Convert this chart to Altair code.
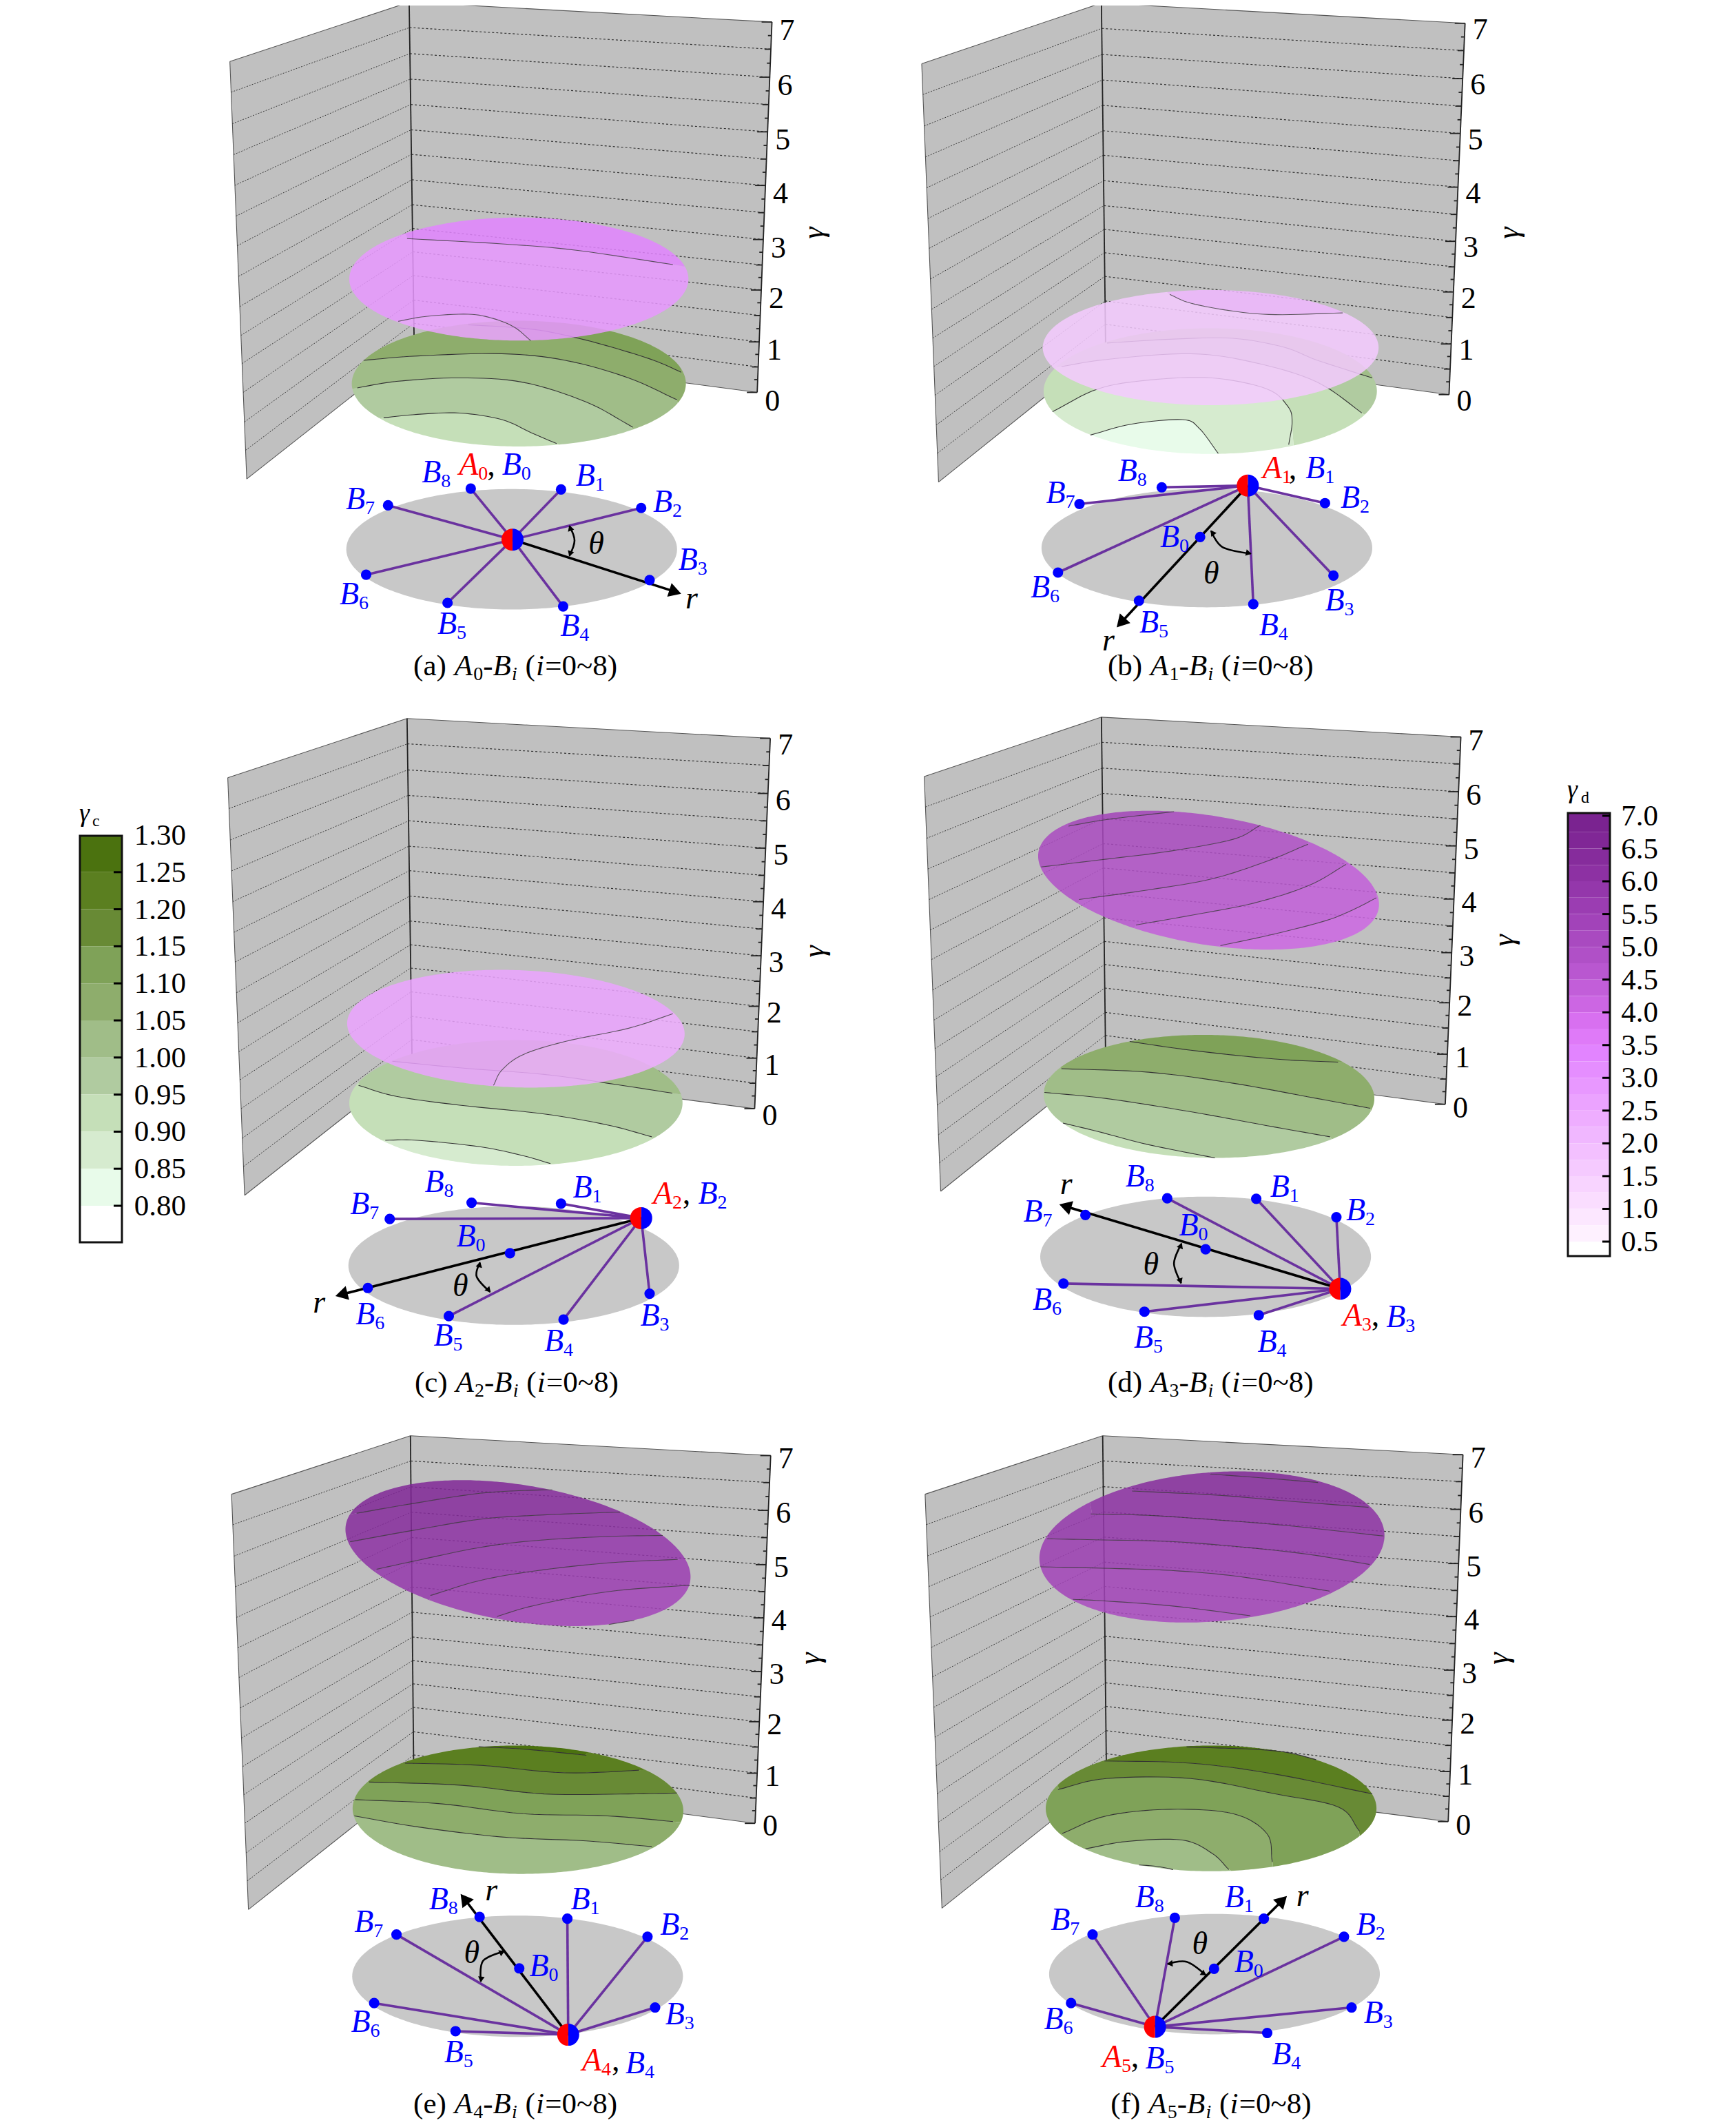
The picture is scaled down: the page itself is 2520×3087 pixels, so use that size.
import math
import numpy as np
import pandas as pd
import altair as alt

alt.data_transformers.disable_max_rows()

W, H = 2504, 3071
SX, SY = 1.633, 1.568
OFFSET = {"a": (300, 0), "b": (1300, 0), "c": (300, 1030), "d": (1300, 1030), "e": (300, 2087), "f": (1300, 2087)}
PANELS = list("abcdef")

# ---- colours of the two colour bars (top to bottom)
GREEN = ["#4B720F", "#5B7F20", "#688A35", "#7FA258", "#8EAD6C", "#A0BD88", "#B0CBA0", "#C5DFB8", "#D6EBCF", "#E8FBEA"]
PURPLE = ["#7A2390", "#802796", "#862C9C", "#8D31A3", "#9437AB", "#9B3DB2", "#A243B9", "#A94AC0", "#B050C7",
          "#B957D0", "#C25ED9", "#CC66E3", "#D870F0", "#DF7AF8", "#E284FF", "#E58EFF", "#E898FF", "#EBA3FF",
          "#EEADFF", "#F0B7FF", "#F3C0FF", "#F5CAFF", "#F8D4FF", "#FADDFF", "#FCE7FF", "#FEF1FF"]
GREEN_TICKS = ["1.30", "1.25", "1.20", "1.15", "1.10", "1.05", "1.00", "0.95", "0.90", "0.85", "0.80"]
PURPLE_TICKS = ["7.0", "6.5", "6.0", "5.5", "5.0", "4.5", "4.0", "3.5", "3.0", "2.5", "2.0", "1.5", "1.0", "0.5"]

# ---- γ walls: top-left, top corner, top-right, bottom-right, bottom corner, bottom-left
WALLS = {
    "a": [(55, 140), (480, 5), (1340, 50), (1305, 893), (492, 790), (95, 1090)],
    "b": [(62, 145), (488, 7), (1350, 53), (1312, 898), (498, 792), (102, 1097)],
    "c": [(50, 155), (475, 20), (1336, 65), (1299, 908), (487, 805), (90, 1105)],
    "d": [(68, 152), (488, 17), (1340, 62), (1303, 898), (498, 795), (107, 1096)],
    "e": [(59, 128), (483, -5), (1337, 40), (1300, 877), (491, 775), (99, 1073)],
    "f": [(70, 128), (491, -5), (1345, 38), (1310, 873), (500, 772), (110, 1070)],
}
GAMMA_FRAC = [0, .0735, .149, .2230, .2966, .3701, .4413, .5148, .5872, .6560, .7236, .7924, .8636, .9312, 1]
GAMMA_LABEL = {"a": (1440, 530), "b": (1455, 530), "c": (1442, 550), "d": (1444, 525), "e": (1432, 502), "f": (1430, 502)}
TICK_LABEL_SHIFT = {"a": 0, "b": -3, "c": -2, "d": -7, "e": -8, "f": -7}

# ---- surfaces: centre x, centre y, half width, half height, skew
GREEN_DISC = {"a": (740, 873, 396, 143, 0), "b": (746, 890, 395, 143, 0), "c": (733, 895, 395, 143, 0),
              "d": (743, 880, 392, 140, 5), "e": (738, 846, 392, 146, 3), "f": (748, 843, 392, 143, 0)}
PINK_DISC = {"a": (740, 635, 402, 140, 0), "b": (747, 791, 398, 131, 0), "c": (733, 726, 400, 134, 12),
             "d": (742, 388, 404, 158, 55), "e": (738, 262, 409, 166, 54), "f": (750, 248, 409, 172, -26)}


def crop_e(pts):
    return [(310 + a * .5443, 83 + b * .5227) for a, b in pts]


def crop_f(pts):
    return [(326.6 + a * .5443, 51.7 + b * .5227) for a, b in pts]


GREEN_LINES = {
    "a": [[(600, 738), (760, 748), (860, 765), (960, 790), (1060, 820), (1125, 847)],
          [(372, 820), (500, 810), (700, 805), (850, 820), (1000, 860), (1115, 910)],
          [(344, 885), (450, 868), (600, 860), (750, 870), (900, 915), (1010, 972)],
          [(408, 952), (500, 943), (600, 940), (700, 955), (770, 985), (838, 1013)]],
    "b": [[(480, 782), (650, 772), (800, 770), (920, 790), (1000, 820), (1130, 860)],
          [(360, 840), (500, 818), (700, 805), (850, 825), (1000, 870), (1120, 950)],
          [(372, 937), (480, 885), (600, 865), (750, 860), (880, 885), (930, 925), (940, 960), (932, 1012)],
          [(462, 990), (560, 965), (680, 955), (720, 975), (765, 1032)]],
    "c": [[(440, 800), (600, 815), (800, 830), (950, 850), (1126, 876)],
          [(360, 855), (450, 880), (600, 900), (800, 920), (950, 945), (1055, 972)],
          [(413, 980), (500, 980), (650, 995), (750, 1015), (815, 1033)]],
    "d": [[(555, 755), (700, 775), (900, 795), (1070, 803)],
          [(393, 817), (600, 825), (800, 850), (1000, 885), (1125, 907)],
          [(353, 871), (500, 885), (700, 915), (900, 950), (1030, 972)],
          [(385, 938), (480, 960), (600, 990), (757, 1020)]],
    "e": [[(630, 702), (750, 708), (900, 722)],
          [(470, 740), (650, 745), (850, 762), (1050, 755)],
          [(385, 783), (600, 790), (800, 810), (1000, 810), (1115, 808)],
          [(352, 823), (550, 832), (750, 855), (950, 860), (1128, 875)],
          [(350, 860), (500, 885), (700, 908), (900, 917), (1055, 930)]],
    "f": [[(690, 703), (900, 712), (1010, 735)],
          [(495, 735), (700, 740), (900, 765), (1130, 810)],
          [(385, 800), (500, 775), (700, 775), (900, 810), (1050, 840), (1100, 895)],
          [(395, 900), (500, 860), (650, 845), (800, 855), (880, 900), (893, 965)],
          [(450, 935), (550, 918), (680, 915), (750, 945), (790, 982)],
          [(550, 970), (620, 975), (670, 985)]],
}
GREEN_FILL = {
    "a": ["#7FA258", "#8EAD6C", "#A0BD88", "#B0CBA0", "#C5DFB8"],
    "b": ["#A0BD88", "#B0CBA0", "#C5DFB8", "#D6EBCF", "#E8FBEA"],
    "c": ["#A0BD88", "#B0CBA0", "#C5DFB8", "#D6EBCF"],
    "d": ["#7FA258", "#8EAD6C", "#A0BD88", "#B0CBA0", "#C5DFB8"],
    "e": ["#4B720F", "#5B7F20", "#688A35", "#7FA258", "#8EAD6C", "#A0BD88"],
    "f": ["#4B720F", "#5B7F20", "#688A35", "#7FA258", "#8EAD6C", "#A0BD88", "#B0CBA0"],
}
PINK_LINES = {
    "a": [[(475, 543), (700, 555), (880, 570), (1138, 607)],
          [(445, 733), (520, 720), (620, 715), (680, 725), (730, 745), (768, 775)]],
    "b": [[(650, 670), (700, 690), (800, 708), (900, 716), (1060, 712)]],
    "c": [[(485, 612), (600, 595)],
          [(680, 855), (700, 820), (750, 785), (850, 755), (1000, 725), (1105, 692)]],
    "d": [[(410, 265), (500, 250), (660, 232)],
          [(345, 358), (500, 340), (650, 322), (800, 295), (865, 263)],
          [(435, 432), (600, 410), (750, 385), (880, 345), (978, 306)],
          [(570, 490), (700, 468), (850, 440), (980, 400), (1068, 352)],
          [(770, 537), (900, 510), (1020, 480), (1085, 455), (1140, 428)]],
    "e": [crop_e([(50, 175), (320, 128), (620, 82), (870, 68), (985, 68)]),
          crop_e([(55, 293), (320, 245), (620, 195), (860, 178), (1190, 165), (1290, 165)]),
          crop_e([(170, 413), (320, 380), (620, 318), (860, 288), (1180, 270), (1450, 265)]),
          crop_e([(405, 527), (620, 462), (860, 420), (1180, 385), (1525, 368)]),
          crop_e([(695, 618), (860, 570), (1180, 510), (1530, 482)]),
          crop_e([(1085, 675), (1200, 650), (1395, 620)])],
    "f": [crop_f([(770, 58), (1000, 75), (1240, 95)]),
          crop_f([(430, 132), (800, 150), (1100, 175), (1460, 203)]),
          crop_f([(250, 232), (500, 238), (800, 258), (1100, 282), (1525, 328)]),
          crop_f([(60, 340), (300, 345), (600, 352), (900, 375), (1200, 408), (1465, 452)]),
          crop_f([(32, 462), (300, 468), (600, 478), (900, 505), (1290, 568)]),
          crop_f([(155, 603), (300, 610), (600, 632), (945, 675)])],
}
PINK_FILL = {
    "a": ["#E284FF", "#E898FF", "#EBA3FF"],
    "b": ["#F0B7FF", "#F5CAFF"],
    "c": ["#E898FF", "#EBA3FF", "#EEADFF"],
    "d": ["#A243B9", "#A94AC0", "#B050C7", "#B957D0", "#C25ED9", "#CC66E3"],
    "e": ["#802796", "#862C9C", "#8D31A3", "#9437AB", "#9B3DB2", "#A243B9", "#A94AC0"],
    "f": ["#802796", "#862C9C", "#8D31A3", "#9437AB", "#9B3DB2", "#A243B9", "#A94AC0"],
}

# ---- schematic: ellipse, A point, B points, arrow tip, which B the arrow passes
BASE = {"a": (723, 1250, 392, 137), "b": (738, 1247, 392, 135), "c": (728, 1265, 392, 135),
        "d": (735, 1245, 392, 137), "e": (737, 1225, 392, 138), "f": (756, 1220, 392, 137)}
A_POINT = {"a": (725, 1228), "b": (835, 1105), "c": (1030, 1157), "d": (1054, 1318), "e": (857, 1358), "f": (615, 1340)}
B_POINTS = {
    "a": [(840, 1114), (1030, 1156), (1050, 1320), (845, 1380), (571, 1372), (378, 1308), (430, 1150), (626, 1112)],
    "b": [(722, 1222), (1018, 1145), (1038, 1310), (848, 1375), (577, 1367), (385, 1303), (436, 1147), (631, 1109)],
    "c": [(719, 1237), (840, 1124), (1050, 1329), (846, 1388), (574, 1380), (382, 1316), (434, 1159), (628, 1122)],
    "d": [(735, 1228), (855, 1113), (1045, 1155), (861, 1378), (590, 1370), (398, 1306), (450, 1150), (644, 1112)],
    "e": [(741, 1207), (855, 1094), (1045, 1135), (1063, 1296), (590, 1350), (397, 1286), (450, 1130), (647, 1090)],
    "f": [(755, 1208), (873, 1094), (1063, 1135), (1081, 1296), (881, 1354), (416, 1286), (467, 1130), (662, 1092)],
}
# indices in B_POINTS that the black r-axis passes (no purple link)
BLACK = {"a": [2], "b": [0, 4], "c": [0, 5], "d": [0, 6], "e": [0, 7], "f": [0, 1]}
ARROW_TIP = {"a": (1128, 1352), "b": (522, 1430), "c": (302, 1335), "d": (385, 1125), "e": (600, 1035), "f": (930, 1040)}
THETA_ARC = {
    "a": [(860, 1197), (872, 1230), (860, 1265)],
    "b": [(748, 1208), (775, 1245), (842, 1260)],
    "c": [(648, 1258), (640, 1290), (672, 1325)],
    "d": [(678, 1215), (660, 1260), (677, 1305)],
    "e": [(705, 1168), (655, 1190), (650, 1237)],
    "f": [(645, 1197), (690, 1192), (735, 1222)],
}
THETA_TEXT = {"a": (905, 1260), "b": (730, 1328), "c": (583, 1335), "d": (587, 1285), "e": (610, 1195), "f": (703, 1175)}
R_TEXT = {"a": (1135, 1385), "b": (490, 1480), "c": (252, 1372), "d": (390, 1102), "e": (660, 1052), "f": (950, 1065)}

RED, BLUE = "#FF0000", "#0000FF"
LABELS = {
    "a": [("A", "0", RED, 598, 1080), (",", "", "#000000", 665, 1082), ("B", "0", BLUE, 700, 1080), ("B", "1", BLUE, 875, 1105),
          ("B", "2", BLUE, 1058, 1165), ("B", "3", BLUE, 1118, 1296), ("B", "4", BLUE, 838, 1448), ("B", "5", BLUE, 547, 1443),
          ("B", "6", BLUE, 315, 1375), ("B", "7", BLUE, 330, 1158), ("B", "8", BLUE, 510, 1098)],
    "b": [("A", "1", RED, 870, 1088), (",", "", "#000000", 932, 1090), ("B", "1", BLUE, 972, 1088), ("B", "2", BLUE, 1055, 1155),
          ("B", "3", BLUE, 1018, 1390), ("B", "4", BLUE, 862, 1445), ("B", "5", BLUE, 578, 1440), ("B", "6", BLUE, 320, 1360),
          ("B", "7", BLUE, 357, 1145), ("B", "8", BLUE, 527, 1095), ("B", "0", BLUE, 627, 1245)],
    "c": [("A", "2", RED, 1058, 1125), (",", "", "#000000", 1128, 1125), ("B", "2", BLUE, 1165, 1125), ("B", "1", BLUE, 868, 1110),
          ("B", "3", BLUE, 1028, 1402), ("B", "4", BLUE, 800, 1460), ("B", "5", BLUE, 538, 1447), ("B", "6", BLUE, 353, 1398),
          ("B", "7", BLUE, 340, 1148), ("B", "8", BLUE, 517, 1098), ("B", "0", BLUE, 592, 1222)],
    "d": [("A", "3", RED, 1060, 1402), (",", "", "#000000", 1128, 1402), ("B", "3", BLUE, 1163, 1405), ("B", "1", BLUE, 888, 1108),
          ("B", "2", BLUE, 1068, 1162), ("B", "4", BLUE, 858, 1462), ("B", "5", BLUE, 565, 1452), ("B", "6", BLUE, 325, 1365),
          ("B", "7", BLUE, 303, 1165), ("B", "8", BLUE, 545, 1085), ("B", "0", BLUE, 672, 1197)],
    "e": [("A", "4", RED, 890, 1440), (",", "", "#000000", 960, 1440), ("B", "4", BLUE, 993, 1445), ("B", "1", BLUE, 863, 1072),
          ("B", "2", BLUE, 1075, 1130), ("B", "3", BLUE, 1087, 1335), ("B", "5", BLUE, 563, 1420), ("B", "6", BLUE, 342, 1352),
          ("B", "7", BLUE, 350, 1125), ("B", "8", BLUE, 527, 1072), ("B", "0", BLUE, 765, 1225)],
    "f": [("A", "5", RED, 490, 1432), (",", "", "#000000", 558, 1432), ("B", "5", BLUE, 592, 1435), ("B", "1", BLUE, 780, 1068),
          ("B", "2", BLUE, 1092, 1130), ("B", "3", BLUE, 1110, 1332), ("B", "4", BLUE, 892, 1425), ("B", "6", BLUE, 352, 1345),
          ("B", "7", BLUE, 368, 1120), ("B", "8", BLUE, 568, 1068), ("B", "0", BLUE, 803, 1215)],
}
CAPTION_POS = {"a": (490, 1537), "b": (503, 1537), "c": (493, 1552), "d": (503, 1552), "e": (490, 1537), "f": (510, 1537)}
CAPTION_SUB = {"a": "0", "b": "1", "c": "2", "d": "3", "e": "4", "f": "5"}

FONT = "Liberation Serif"
WIDTH = {"(": .36, ")": .333, " ": .25, "a": .444, "b": .5, "c": .444, "d": .5, "e": .444, "f": .333, "A": .64, "B": .64,
         "-": .333, "i": .31, "=": .564, "~": .541, ",": .25}


def P(p, z):
    ox, oy = OFFSET[p]
    return ox + z[0] / SX, oy + z[1] / SY


def smooth(pts, n=8):
    pts = [np.array(q, float) for q in pts]
    if len(pts) < 3:
        return np.array(pts)
    ext = [2 * pts[0] - pts[1]] + pts + [2 * pts[-1] - pts[-2]]
    out = []
    for i in range(1, len(ext) - 2):
        p0, p1, p2, p3 = ext[i - 1:i + 3]
        for t in np.linspace(0, 1, n, endpoint=False):
            out.append(.5 * (2 * p1 + (p2 - p0) * t + (2 * p0 - 5 * p1 + 4 * p2 - p3) * t * t + (3 * p1 - p0 - 3 * p2 + p3) * t ** 3))
    out.append(pts[-1])
    return np.array(out)


def edge(disc, xs):
    cx, cy, w, h, s = disc
    d = np.clip((np.asarray(xs, float) - cx) / w, -1, 1)
    half = math.sqrt(h * h - s * s) * np.sqrt(1 - d * d)
    return cy + s * d - half, cy + s * d + half


area_rows, line_rows = {}, {}


def surface(p, disc, lines, fills, key):
    cx, cy, w, h, s = disc
    xs = cx - w * np.cos(np.linspace(0, math.pi, 181))
    top, bot = edge(disc, xs)
    bounds = [top]
    for k, ln in enumerate(lines):
        c = smooth(ln)
        cxs = np.maximum.accumulate(c[:, 0])
        b = np.interp(xs, cxs, c[:, 1])
        # outside the contour's span the column lies wholly on one side, set by the edge the end meets
        t0, u0 = edge(disc, [cxs[0], cxs[-1]])
        left_top = abs(c[0, 1] - t0[0]) < abs(c[0, 1] - u0[0])
        right_top = abs(c[-1, 1] - t0[1]) < abs(c[-1, 1] - u0[1])
        b = np.where(xs < cxs[0], top if left_top else bot, b)
        b = np.where(xs > cxs[-1], top if right_top else bot, b)
        b = np.clip(b, top, bot)
        bounds.append(np.maximum(b, bounds[-1]))
        t, u = edge(disc, c[:, 0])
        keep = (c[:, 1] >= t - 1) & (c[:, 1] <= u + 1)
        for i, q in enumerate(c[keep]):
            qx, qy = P(p, q)
            line_rows.setdefault(key, []).append({"x": qx, "y": qy, "g": f"{p}{k}", "o": i})
    bounds.append(bot)
    for k, col in enumerate(fills):
        for x0, a, b in zip(xs, bounds[k], bounds[k + 1]):
            qx, qy = P(p, (x0, a))
            _, qy2 = P(p, (x0, b))
            area_rows.setdefault(key, []).append({"x": qx, "y": qy, "y2": qy2, "g": f"{p}{k}", "c": col})


def convex(poly, gid, col, rows):
    pts = list(poly)
    xs = sorted({q[0] for q in pts})
    for x0 in xs:
        ys = []
        for i in range(len(pts)):
            a, b = pts[i], pts[(i + 1) % len(pts)]
            lo, hi = min(a[0], b[0]), max(a[0], b[0])
            if lo <= x0 <= hi and hi > lo:
                ys.append(a[1] + (b[1] - a[1]) * (x0 - a[0]) / (b[0] - a[0]))
        rows.append({"x": x0, "y": min(ys), "y2": max(ys), "g": gid, "c": col})


wall_rows, wall_lines_r, wall_lines_l, wall_edges, ticks = [], [], [], [], []
normal, italic, rotated = [], [], []
base_rows, purple, black, dots, arrow_heads, arc_lines, a_points = [], [], [], [], [], [], []


def add_line(rows, a, b, gid):
    rows.append({"x": a[0], "y": a[1], "g": gid, "o": 0})
    rows.append({"x": b[0], "y": b[1], "g": gid, "o": 1})


def head(tip, frm, size, back):
    dx, dy = tip[0] - frm[0], tip[1] - frm[1]
    n = math.hypot(dx, dy)
    ang = math.degrees(math.atan2(dx, -dy)) % 360
    arrow_heads.append({"x": tip[0] - dx / n * back, "y": tip[1] - dy / n * back, "a": ang, "s": size})


for p in PANELS:
    tl, ct, tr, br, cb, bl = [P(p, q) for q in WALLS[p]]
    convex([tl, ct, cb, bl], p + "L", "#C0C0C0", wall_rows)
    convex([ct, tr, br, cb], p + "R", "#C0C0C0", wall_rows)
    for nm, a, b in [("t", tl, ct), ("u", ct, tr), ("l", tl, bl), ("bl", bl, cb), ("br", cb, br)]:
        add_line(wall_edges, a, b, p + nm)
    add_line(ticks, ct, cb, p + "corner")
    add_line(ticks, tr, br, p + "right")
    lerp = lambda a, b, t: (a[0] + (b[0] - a[0]) * t, a[1] + (b[1] - a[1]) * t)
    for i, f in enumerate(GAMMA_FRAC):
        r, c, l = lerp(tr, br, f), lerp(ct, cb, f), lerp(tl, bl, f)
        if 0 < i < len(GAMMA_FRAC) - 1:
            add_line(wall_lines_r, c, r, f"{p}r{i}")
            add_line(wall_lines_l, l, c, f"{p}l{i}")
        ln = 15 if i % 2 == 0 else 9
        add_line(ticks, (r[0] - ln, r[1]), r, f"{p}t{i}")
        if i < len(GAMMA_FRAC) - 1:
            m = lerp(tr, br, (f + GAMMA_FRAC[i + 1]) / 2)
            add_line(ticks, (m[0] - 5, m[1]), m, f"{p}m{i}")
        if i % 2 == 0:
            normal.append({"x": r[0] + 11, "y": r[1] + 26 + TICK_LABEL_SHIFT[p], "t": str(7 - i // 2), "c": "#000000", "s": 44, "al": "left"})
    gx, gy_ = P(p, GAMMA_LABEL[p])
    rotated.append({"x": gx, "y": gy_, "t": "γ"})

    surface(p, GREEN_DISC[p], GREEN_LINES[p], GREEN_FILL[p], "green")
    surface(p, PINK_DISC[p], PINK_LINES[p], PINK_FILL[p], "pink")

    # schematic
    cx, cy, w, h = BASE[p]
    xs = cx - w * np.cos(np.linspace(0, math.pi, 121))
    t, u = edge((cx, cy, w, h, 0), xs)
    for x0, a, b in zip(xs, t, u):
        qx, qy = P(p, (x0, a))
        _, qy2 = P(p, (x0, b))
        base_rows.append({"x": qx, "y": qy, "y2": qy2, "g": p, "c": "#C8C8C8"})
    A = P(p, A_POINT[p])
    tip = P(p, ARROW_TIP[p])
    for k, z in enumerate(B_POINTS[p]):
        q = P(p, z)
        if k not in BLACK[p]:
            add_line(purple, A, q, f"{p}{k}")
        dots.append({"x": q[0], "y": q[1]})
    add_line(black, A, (tip[0] - (tip[0] - A[0]) * .03, tip[1] - (tip[1] - A[1]) * .03), p)
    head(tip, A, 430, 11)
    a_points.append({"x": A[0], "y": A[1]})
    arc = [P(p, z) for z in THETA_ARC[p]]
    for i, q in enumerate(arc):
        arc_lines.append({"x": q[0], "y": q[1], "g": p, "o": i})
    head(arc[0], arc[1], 90, 3)
    head(arc[2], arc[1], 90, 3)
    tx, ty = P(p, THETA_TEXT[p])
    italic.append({"x": tx, "y": ty, "t": "θ", "c": "#000000", "s": 46, "al": "left"})
    rx, ry = P(p, R_TEXT[p])
    italic.append({"x": rx, "y": ry, "t": "r", "c": "#000000", "s": 46, "al": "left"})
    for letter, sub, col, zx, zy in LABELS[p]:
        lx, ly = P(p, (zx, zy))
        if letter == ",":
            normal.append({"x": lx, "y": ly, "t": ",", "c": col, "s": 46, "al": "left"})
            continue
        italic.append({"x": lx, "y": ly, "t": letter, "c": col, "s": 46, "al": "left"})
        normal.append({"x": lx + 28, "y": ly + 7, "t": sub, "c": col, "s": 28, "al": "left"})
    # caption built run by run
    cxp, cyp = P(p, CAPTION_POS[p])
    fs = 43
    runs = [(f"({p})", "n", 0), (" ", "n", 0), ("A", "i", 0), (CAPTION_SUB[p], "n", 1), ("-", "n", 0), ("B", "i", 0), ("i", "i", 1),
            (" ", "n", 0), ("(", "n", 0), ("i", "i", 0), ("=0~8)", "n", 0)]
    cur = cxp
    for txt, style, is_sub in runs:
        size = fs * (.65 if is_sub else 1)
        if txt.strip():
            (italic if style == "i" else normal).append({"x": cur, "y": cyp + (7 if is_sub else 0), "t": txt, "c": "#000000", "s": size, "al": "left"})
        cur += sum(WIDTH.get(ch, .5) for ch in txt) * size

# colour bars
bar_rows, bar_ticks, bar_frames = [], [], []
gy = lambda g: 1750 - (g - .8) * 1076
for i, col in enumerate(GREEN):
    bar_rows.append({"x": 116, "x2": 177, "y": gy(1.30 - .05 * i), "y2": gy(1.25 - .05 * i), "c": col})
bar_rows.append({"x": 116, "x2": 177, "y": gy(.8), "y2": 1803, "c": "#FFFFFF"})
for i, lab in enumerate(GREEN_TICKS):
    v = float(lab)
    if i > 0:
        add_line(bar_ticks, (165, gy(v)), (177, gy(v)), f"g{i}")
    normal.append({"x": 270, "y": gy(v) + 14, "t": lab, "c": "#000000", "s": 43, "al": "right"})
py = lambda g: 1802 - (g - .5) * 95.08
for i, col in enumerate(PURPLE):
    bar_rows.append({"x": 2276, "x2": 2337, "y": py(7 - .25 * i) if i else 1180, "y2": py(6.75 - .25 * i), "c": col})
bar_rows.append({"x": 2276, "x2": 2337, "y": py(.5), "y2": 1823, "c": "#FFFFFF"})
for i, lab in enumerate(PURPLE_TICKS):
    v = float(lab)
    add_line(bar_ticks, (2326, py(v)), (2337, py(v)), f"p{i}")
    normal.append({"x": 2407, "y": py(v) + 14, "t": lab, "c": "#000000", "s": 43, "al": "right"})
bar_frames = [{"x": 116, "x2": 177, "y": 1213, "y2": 1803}, {"x": 2276, "x2": 2337, "y": 1180, "y2": 1823}]
normal += [{"x": 134, "y": 1199, "t": "c", "c": "#000000", "s": 24, "al": "left"},
           {"x": 2295, "y": 1165, "t": "d", "c": "#000000", "s": 24, "al": "left"}]
italic += [{"x": 115, "y": 1192, "t": "γ", "c": "#000000", "s": 38, "al": "left"},
           {"x": 2275, "y": 1158, "t": "γ", "c": "#000000", "s": 38, "al": "left"}]

# ---- chart
sx = alt.Scale(domain=[8, 8 + W], nice=False, zero=False)
sy = alt.Scale(domain=[8 + H, 8], nice=False, zero=False)
X = alt.X("x:Q", scale=sx, axis=None)
Y = alt.Y("y:Q", scale=sy, axis=None, stack=None)
COL = alt.Color("c:N", scale=None, legend=None)


def areas(rows, opacity=1.0):
    return alt.Chart(pd.DataFrame(rows)).mark_area(opacity=opacity, interpolate="linear").encode(
        x=X, y=Y, y2=alt.Y2("y2:Q"), color=COL, detail="g:N")


def lines(rows, color, width, dash=None, opacity=1.0, interp="linear"):
    kw = {"strokeDash": dash} if dash else {}
    return alt.Chart(pd.DataFrame(rows)).mark_line(color=color, strokeWidth=width, opacity=opacity, interpolate=interp, **kw).encode(
        x=X, y=Y, detail="g:N", order="o:Q")


def texts(rows, style, align):
    rows = [r for r in rows if r["al"] == align]
    return alt.Chart(pd.DataFrame(rows)).mark_text(font=FONT, fontStyle=style, align=align, baseline="alphabetic").encode(
        x=X, y=Y, text="t:N", color=COL, size=alt.Size("s:Q", scale=None, legend=None))


layers = [
    areas(wall_rows),
    lines(wall_edges, "#555555", 1.1),
    lines(wall_lines_r, "#333333", 1.2, dash=[3, 3]),
    lines(wall_lines_l, "#3A3A3A", 1.0, dash=[2, 2]),
    lines(ticks, "#222222", 1.8),
    areas(area_rows["green"]),
    lines(line_rows["green"], "#333333", 1.1),
    areas(area_rows["pink"], opacity=.85),
    lines(line_rows["pink"], "#333333", 1.1, opacity=.75),
    areas(base_rows),
    lines(purple, "#6A329F", 3.6),
    lines(black, "#000000", 3.6),
    lines(arc_lines, "#000000", 2.6, interp="cardinal"),
    alt.Chart(pd.DataFrame(dots)).mark_circle(color=BLUE, opacity=1, size=230).encode(x=X, y=Y),
    alt.Chart(pd.DataFrame(a_points)).mark_arc(radius=16, theta=0, theta2=math.pi, color=BLUE).encode(x=X, y=Y),
    alt.Chart(pd.DataFrame(a_points)).mark_arc(radius=16, theta=math.pi, theta2=2 * math.pi, color=RED).encode(x=X, y=Y),
    alt.Chart(pd.DataFrame(arrow_heads)).mark_point(shape="triangle-up", filled=True, color="#000000", opacity=1).encode(
        x=X, y=Y, angle=alt.Angle("a:Q", scale=None), size=alt.Size("s:Q", scale=None, legend=None)),
    alt.Chart(pd.DataFrame(bar_rows)).mark_rect().encode(x=X, x2=alt.X2("x2:Q"), y=Y, y2=alt.Y2("y2:Q"), color=COL),
    alt.Chart(pd.DataFrame(bar_frames)).mark_rect(fill=None, stroke="#111111", strokeWidth=3).encode(
        x=X, x2=alt.X2("x2:Q"), y=Y, y2=alt.Y2("y2:Q")),
    lines(bar_ticks, "#000000", 3),
    texts(normal, "normal", "left"),
    texts(normal, "normal", "right"),
    texts(italic, "italic", "left"),
    alt.Chart(pd.DataFrame(rotated)).mark_text(font=FONT, fontStyle="italic", fontSize=44, angle=270, align="center", baseline="middle").encode(
        x=X, y=Y, text="t:N"),
]

chart = alt.layer(*layers).properties(width=W, height=H, padding=0, autosize="none", background="#FFFFFF").configure_view(stroke=None)
chart.save("out.html", embed_options={"renderer": "svg", "actions": False})
